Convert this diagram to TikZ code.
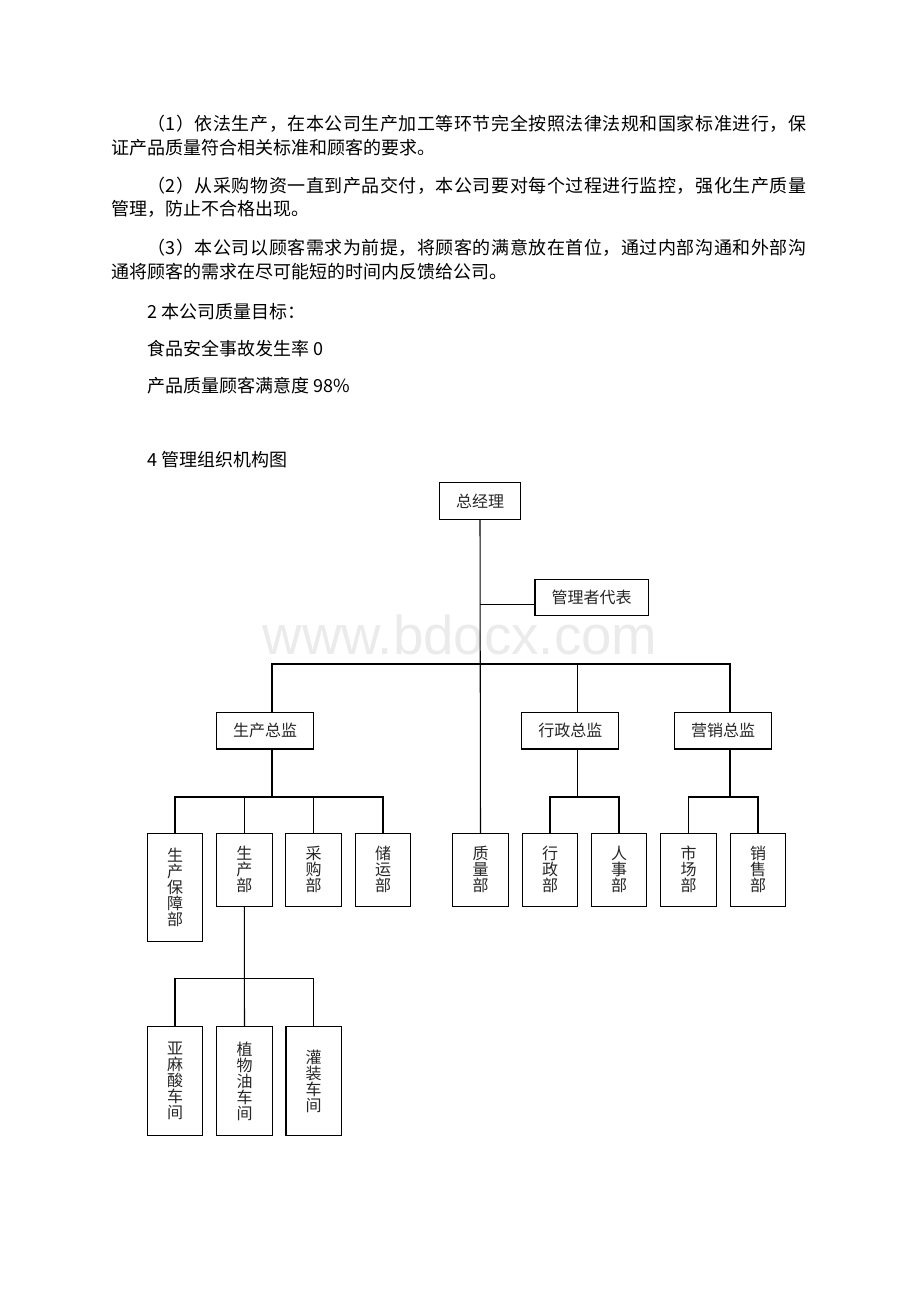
\documentclass[tikz,border=0pt]{standalone}
\usepackage{fontspec}
\setmainfont{Noto Sans CJK SC}
\newfontfamily\wmfont{Liberation Sans}
\usetikzlibrary{calc}

\tikzset{
  txtline/.style={anchor=west, inner sep=0pt, font=\fontsize{13.5pt}{16pt}\selectfont},
  hbox/.style={draw, line width=0.8pt, inner xsep=12.4pt, inner ysep=0pt,
    minimum height=27.4pt, font=\fontsize{12pt}{12pt}\selectfont, text=black!85},
  vbox/.style={draw, line width=0.8pt, inner sep=0pt, align=center,
    minimum width=41.6pt, minimum height=54.75pt,
    font=\fontsize{12pt}{12pt}\selectfont, text=black!85},
  tallbox/.style={vbox, minimum height=81.4pt},
  link/.style={line width=0.8pt}
}

\begin{document}
\begin{tikzpicture}[x=0.75pt,y=-0.75pt]
	\useasboundingbox (0,0) rectangle (920,1302);
	% text above the chart
	\path (147,124) node[txtline] (l1) {\addfontfeature{LetterSpace=3}（1）依法生产，在本公司生产加工等环节完全按照法律法规和国家标准进行，保};
	\path (111,147.5) node[txtline] (l2) {证产品质量符合相关标准和顾客的要求。};
	\path (147,185.5) node[txtline] (l3) {\addfontfeature{LetterSpace=3}（2）从采购物资一直到产品交付，本公司要对每个过程进行监控，强化生产质量};
	\path (111,209) node[txtline] (l4) {管理，防止不合格出现。};
	\path (147,248) node[txtline] (l5) {\addfontfeature{LetterSpace=3}（3）本公司以顾客需求为前提，将顾客的满意放在首位，通过内部沟通和外部沟};
	\path (111,271.5) node[txtline] (l6) {通将顾客的需求在尽可能短的时间内反馈给公司。};
	\path (147,312) node[txtline] (l7) {2 本公司质量目标：};
	\path (147,349) node[txtline] (l8) {食品安全事故发生率 0};
	\path (147,386) node[txtline] (l9) {产品质量顾客满意度 98\%};
	\path (147,460) node[txtline] (l10) {4 管理组织机构图};
	% watermark
	\path (460,654) node[anchor=base, inner sep=0pt, text=black!8, font=\wmfont\fontsize{41pt}{41pt}\selectfont] (wm) {www.bdocx.com};

	% top of the chart
	\path (480,501) node[hbox] (gm) {总经理};
	\path (591.5,597.5) node[hbox] (rep) {管理者代表};
	\path (265.2,730.7) node[hbox] (prod) {生产总监};
	\path (570.3,730.7) node[hbox] (admin) {行政总监};
	\path (723.2,730.7) node[hbox] (sales) {营销总监};
	% departments
	\path (175,887.5) node[tallbox] (guarantee) {生\\产\\保\\障\\部};
	\path (244.3,869.8) node[vbox] (making) {生\\产\\部};
	\path (313.5,869.8) node[vbox] (buying) {采\\购\\部};
	\path (383,869.8) node[vbox] (storage) {储\\运\\部};
	\path (480.5,869.8) node[vbox] (quality) {质\\量\\部};
	\path (550,869.8) node[vbox] (office) {行\\政\\部};
	\path (619,869.8) node[vbox] (staff) {人\\事\\部};
	\path (688.5,869.8) node[vbox] (market) {市\\场\\部};
	\path (758,869.8) node[vbox] (selling) {销\\售\\部};
	% workshops
	\path (175,1081) node[tallbox] (shopa) {亚\\麻\\酸\\车\\间};
	\path (244.5,1081) node[tallbox] (shopb) {植\\物\\油\\车\\间};
	\path (313.7,1081) node[tallbox] (shopc) {灌\\装\\车\\间};

	% bus lines
	\coordinate (topbus) at (480,664);
	\coordinate (prodbus) at (272,797);
	\coordinate (adminbus) at (577.3,797);
	\coordinate (salesbus) at (730,797);
	\coordinate (shopbus) at (244.4,978.7);
	\coordinate (repin) at ([yshift=-4.9pt]rep.west);

	\draw[link] (gm.south) -- (quality.north);
	\draw[link] (repin) -- (repin -| gm.south);
	\draw[link] ([xshift=5.1pt]prod.north) |- (topbus) -| ([xshift=5.1pt]sales.north);
	\draw[link] ([xshift=5.25pt]admin.north) |- (topbus);
	% production
	\draw[link] ([xshift=5.1pt]prod.south) -- (prodbus);
	\draw[link] (guarantee.north) |- (prodbus) -| (storage.north);
	\draw[link] (making.north) -- (making.north |- prodbus);
	\draw[link] (buying.north) -- (buying.north |- prodbus);
	% administration
	\draw[link] ([xshift=5.25pt]admin.south) -- (adminbus);
	\draw[link] (office.north) |- (adminbus) -| (staff.north);
	% sales
	\draw[link] ([xshift=5.1pt]sales.south) -- (salesbus);
	\draw[link] (market.north) |- (salesbus) -| (selling.north);
	% workshops
	\draw[link] (making.south) -- (shopbus);
	\draw[link] (shopa.north) |- (shopbus) -| (shopc.north);
	\draw[link] (shopb.north) -- (shopbus);
\end{tikzpicture}
\end{document}
